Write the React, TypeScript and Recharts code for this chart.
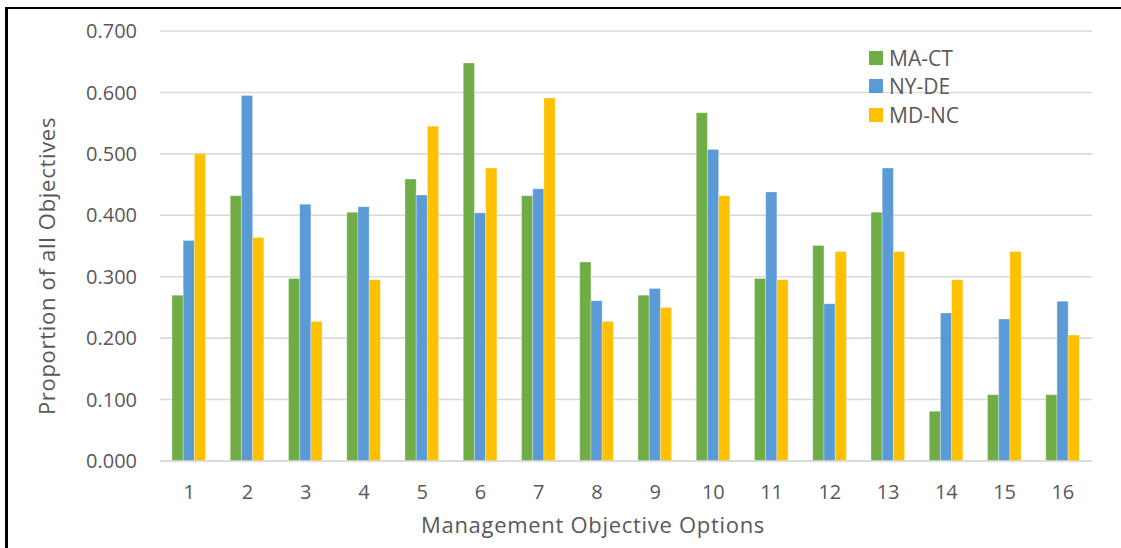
import React from 'react';
import { BarChart, Bar, XAxis, YAxis, CartesianGrid } from 'recharts';

const categories = ['1', '2', '3', '4', '5', '6', '7', '8', '9', '10', '11', '12', '13', '14', '15', '16'];
const maCt = [0.27, 0.432, 0.297, 0.405, 0.459, 0.648, 0.432, 0.324, 0.27, 0.567, 0.297, 0.351, 0.405, 0.081, 0.108, 0.108];
const nyDe = [0.359, 0.595, 0.418, 0.414, 0.433, 0.404, 0.443, 0.261, 0.281, 0.507, 0.438, 0.256, 0.477, 0.241, 0.231, 0.26];
const mdNc = [0.5, 0.364, 0.227, 0.295, 0.545, 0.477, 0.591, 0.227, 0.25, 0.432, 0.295, 0.341, 0.341, 0.295, 0.341, 0.205];
const yTicks = [0, 0.1, 0.2, 0.3, 0.4, 0.5, 0.6, 0.7];

const series = [
  { key: 'MA-CT', color: '#70ad47' },
  { key: 'NY-DE', color: '#5b9bd5' },
  { key: 'MD-NC', color: '#ffc000' },
];

const data = categories.map((name, i) => ({
  name,
  'MA-CT': maCt[i],
  'NY-DE': nyDe[i],
  'MD-NC': mdNc[i],
}));

const font = '"Open Sans", sans-serif';
const textColor = '#595959';

// axis titles sit a bit off the plot centre, like the Excel original
const YTitle = ({ viewBox }: any) => {
  const x = viewBox.x + 46;
  const y = viewBox.y + viewBox.height / 2 + 20;
  return (
    <text
      x={x}
      y={y}
      transform={`rotate(-90, ${x}, ${y})`}
      textAnchor="middle"
      dominantBaseline="central"
      fontFamily={font}
      fontSize={22}
      letterSpacing={0.7}
      fill={textColor}
    >
      Proportion of all Objectives
    </text>
  );
};

const XTitle = ({ viewBox }: any) => (
  <text
    x={viewBox.x + viewBox.width / 2 - 33}
    y={viewBox.y + 72}
    textAnchor="middle"
    fontFamily={font}
    fontSize={22}
    letterSpacing={0.7}
    fill={textColor}
  >
    Management Objective Options
  </text>
);

const LegendBox = () => (
  <div
    style={{
      position: 'absolute',
      left: 869,
      top: 44,
      fontFamily: font,
      fontSize: 21,
      color: textColor,
    }}
  >
    {series.map((s) => (
      <div key={s.key} style={{ display: 'flex', alignItems: 'center', height: 28.3 }}>
        <div style={{ width: 14, height: 14, background: s.color, marginRight: 6 }} />
        <span>{s.key}</span>
      </div>
    ))}
  </div>
);

export default function App() {
  return (
    <div
      style={{
        position: 'absolute',
        left: 0,
        top: 0,
        width: 1121,
        height: 548,
        background: '#fff',
        overflow: 'hidden',
      }}
    >
      <div
        style={{
          position: 'absolute',
          left: 5,
          top: 7,
          right: 0,
          bottom: 0,
          borderLeft: '3px solid #000',
          borderTop: '2px solid #000',
        }}
      />
      <div style={{ position: 'absolute', left: 0, top: 0 }}>
        <BarChart
          width={1121}
          height={548}
          data={data}
          margin={{ top: 31, right: 29, left: 0, bottom: 0 }}
          barGap={0}
          barSize={11.2}
        >
          <CartesianGrid vertical={false} stroke="#d9d9d9" strokeWidth={1.6} />
          <XAxis
            dataKey="name"
            height={87}
            axisLine={{ stroke: '#d9d9d9', strokeWidth: 1.6 }}
            tickLine={false}
            tickMargin={18}
            tick={{ fontFamily: font, fontSize: 20, fill: textColor }}
            label={<XTitle />}
          />
          <YAxis
            width={160}
            domain={[0, 0.7]}
            ticks={yTicks}
            axisLine={false}
            tickLine={false}
            tickMargin={17}
            tickFormatter={(v: number) => v.toFixed(3)}
            tick={{ fontFamily: font, fontSize: 20, fill: textColor }}
            label={<YTitle />}
          />
          {series.map((s) => (
            <Bar
              key={s.key}
              dataKey={s.key}
              fill={s.color}
              stroke="#ffffff"
              strokeWidth={0.6}
              strokeOpacity={0.5}
              isAnimationActive={false}
            />
          ))}
        </BarChart>
      </div>
      <LegendBox />
    </div>
  );
}
